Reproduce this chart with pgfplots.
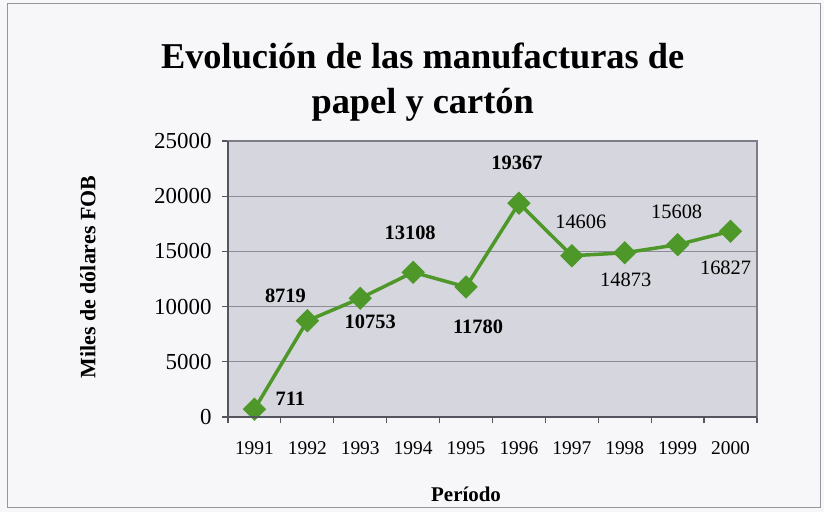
\documentclass[border=0pt]{standalone}
\usepackage{pgfplots}
\pgfplotsset{compat=1.18}
\usepackage{pgfplotstable}
\usepackage{fontspec}
\setmainfont{Liberation Serif}
\definecolor{pagebg}{RGB}{247,247,249}
\definecolor{plotbg}{RGB}{214,214,222}
\definecolor{gridc}{RGB}{140,140,150}
\definecolor{axisdark}{RGB}{85,85,95}
\definecolor{axislight}{RGB}{125,125,135}
\definecolor{linegreen}{RGB}{78,152,42}
\definecolor{framec}{RGB}{150,150,155}

\pgfplotstableread{
x y dx dy
1991 711 36 10
1992 8719 -22 25
1993 10753 10 -24
1994 13108 -3 40
1995 11780 12 -40
1996 19367 -2 41
}\labbold
\pgfplotstableread{
x y dx dy
1997 14606 9 34
1998 14873 1 -27
1999 15608 -1 33
2000 16827 -5 -37
}\labreg

\begin{document}
\begin{tikzpicture}
\fill[pagebg] (0,0) rectangle (824bp,512bp);
\useasboundingbox (0,0) rectangle (824bp,512bp);
\draw[framec, line width=1bp] (7bp,4bp) rectangle (820bp,508bp);
\begin{axis}[
  at={(228bp,95bp)}, anchor=south west,
  scale only axis, width=529bp, height=276bp,
  xmin=1990.5, xmax=2000.5, ymin=0, ymax=25000,
  xtick={1991,...,2000},
  minor xtick={1990.5,1991.5,...,2000.5},
  ytick={0,5000,...,25000},
  scaled y ticks=false,
  /pgf/number format/1000 sep={},
  /pgf/number format/assume math mode=true,
  tick align=outside,
  major tick length=6bp,
  minor tick length=6bp,
  x tick style={draw=none},
  minor x tick style={draw=axisdark, line width=1.2bp},
  y tick style={draw=axisdark, line width=1.2bp},
  xtick pos=bottom, ytick pos=left,
  ymajorgrids, grid style={gridc, line width=1.2bp},
  axis background/.style={fill=plotbg},
  axis line style={axislight, line width=2bp},
  xticklabel style={font=\fontsize{19.5}{22}\selectfont, yshift=-15bp},
  yticklabel style={font=\fontsize{23}{26}\selectfont, xshift=-7bp},
  title={Evolución de las manufacturas de\\papel y cartón},
  title style={font=\fontsize{36.5}{46}\selectfont\bfseries, align=center,
    at={(axis description cs:0.368,1.035)}, anchor=south},
  xlabel={Período},
  xlabel style={font=\fontsize{21}{24}\selectfont\bfseries,
    at={(axis description cs:0.45,-0.279)}, anchor=center},
  ylabel={Miles de dólares FOB},
  ylabel style={font=\fontsize{22}{26}\selectfont\bfseries,
    at={(axis description cs:-0.265,0.507)}, anchor=center},
  clip=false,
  after end axis/.code={
    \draw[axisdark, line width=2.4bp] (rel axis cs:0,1) -- (rel axis cs:0,0) -- (rel axis cs:1,0);
  },
]
\addplot[color=linegreen, line width=3.5bp, mark=square*, mark size=6.5bp,
  mark options={rotate=45, solid, fill=linegreen, draw=linegreen}]
  coordinates {(1991,711) (1992,8719) (1993,10753) (1994,13108) (1995,11780)
               (1996,19367) (1997,14606) (1998,14873) (1999,15608) (2000,16827)};
\addplot[draw=none, nodes near coords, point meta=explicit symbolic,
  visualization depends on={\thisrow{dx}\as\dx},
  visualization depends on={\thisrow{dy}\as\dy},
  nodes near coords style={anchor=center, xshift=\dx, yshift=\dy,
    font=\fontsize{20.5}{24}\selectfont\bfseries, text=black}]
  table[x=x, y=y, meta=y] {\labbold};
\addplot[draw=none, nodes near coords, point meta=explicit symbolic,
  visualization depends on={\thisrow{dx}\as\dx},
  visualization depends on={\thisrow{dy}\as\dy},
  nodes near coords style={anchor=center, xshift=\dx, yshift=\dy,
    font=\fontsize{20.5}{24}\selectfont, text=black}]
  table[x=x, y=y, meta=y] {\labreg};
\end{axis}
\end{tikzpicture}
\end{document}
